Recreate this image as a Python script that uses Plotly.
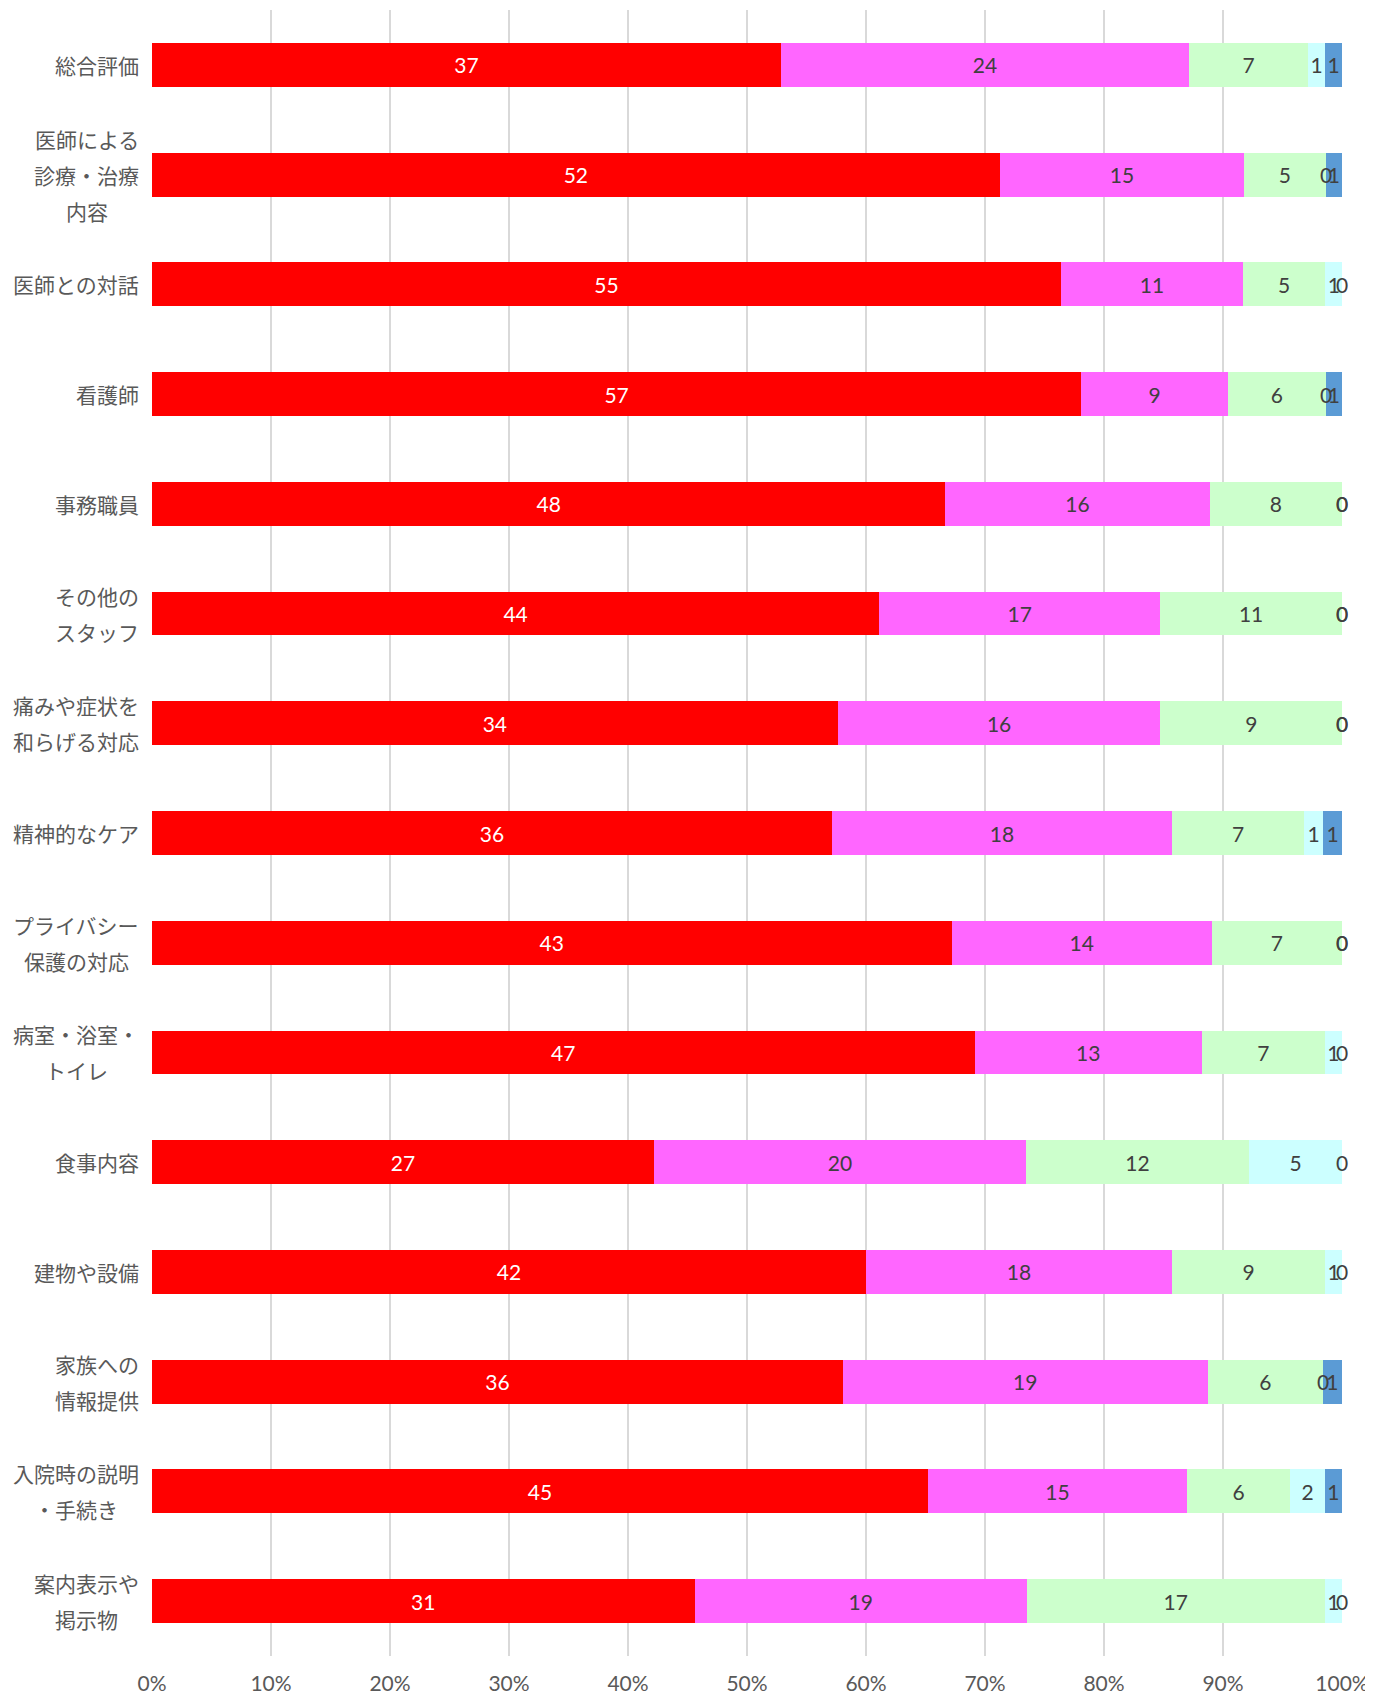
import plotly.graph_objects as go

categories = [
    "総合評価",
    "医師による\n診療・治療\n内容",
    "医師との対話",
    "看護師",
    "事務職員",
    "その他の\nスタッフ",
    "痛みや症状を\n和らげる対応",
    "精神的なケア",
    "プライバシー\n保護の対応",
    "病室・浴室・\nトイレ",
    "食事内容",
    "建物や設備",
    "家族への\n情報提供",
    "入院時の説明\n・手続き",
    "案内表示や\n掲示物",
]

series_names = ["s1", "s2", "s3", "s4", "s5"]
s1 = [37, 52, 55, 57, 48, 44, 34, 36, 43, 47, 27, 42, 36, 45, 31]
s2 = [24, 15, 11, 9, 16, 17, 16, 18, 14, 13, 20, 18, 19, 15, 19]
s3 = [7, 5, 5, 6, 8, 11, 9, 7, 7, 7, 12, 9, 6, 6, 17]
s4 = [1, 0, 1, 0, 0, 0, 0, 1, 0, 1, 5, 1, 0, 2, 1]
s5 = [1, 1, 0, 1, 0, 0, 0, 1, 0, 0, 0, 0, 1, 1, 0]

tick_vals = [0, 0.1, 0.2, 0.3, 0.4, 0.5, 0.6, 0.7, 0.8, 0.9, 1.0]
tick_text = ["0%", "10%", "20%", "30%", "40%", "50%", "60%", "70%", "80%", "90%", "100%"]

colors = ["#FF0000", "#FF66FF", "#CCFFCC", "#CCFFFF", "#5B9BD5"]
text_colors = ["#FFFFFF", "#404040", "#404040", "#404040", "#404040"]

all_series = [s1, s2, s3, s4, s5]
totals = [sum(v) for v in zip(*all_series)]
ykeys = [c.replace("\n", "") for c in categories]

NUM_FONT = "Lato"
CJK_FONT = "Noto Sans CJK JP"
NUM_FS = 21

fig = go.Figure()
for k, vals in enumerate(all_series):
    frac = [v / t for v, t in zip(vals, totals)]
    fig.add_trace(go.Bar(
        y=ykeys, x=frac, orientation="h", name=series_names[k],
        marker=dict(color=colors[k], line=dict(width=0)),
        text=[str(v) if v > 0 else "" for v in vals],
        textposition="inside", insidetextanchor="middle",
        constraintext="none",
        insidetextfont=dict(family=NUM_FONT, size=NUM_FS, color=text_colors[k]),
        hoverinfo="skip",
    ))

annotations = []

# labels for zero-valued segments, placed at segment boundary
for i in range(len(categories)):
    cum = 0
    for k, vals in enumerate(all_series):
        v = vals[i]
        if v == 0:
            annotations.append(dict(
                x=cum / totals[i], xref="x", y=ykeys[i], yref="y",
                text="0", showarrow=False, xanchor="center", yanchor="middle",
                font=dict(family=NUM_FONT, size=NUM_FS, color="#404040"),
            ))
        cum += v

FS = 21
LINE_H = 36
for i, cat in enumerate(categories):
    lines = cat.split("\n")
    n = len(lines)
    bw = max(len(l) for l in lines) * FS
    for j, line in enumerate(lines):
        annotations.append(dict(
            x=0, xref="paper", y=ykeys[i], yref="y",
            text=line, showarrow=False,
            xanchor="center", yanchor="middle",
            xshift=-(13 + bw / 2), yshift=-(j - (n - 1) / 2) * LINE_H,
            font=dict(family=CJK_FONT, size=FS, color="#595959"),
        ))

fig.update_layout(
    width=1365, height=1689,
    barmode="stack", bargap=0.6,
    showlegend=False,
    plot_bgcolor="white", paper_bgcolor="white",
    margin=dict(l=144, r=31, t=2, b=33),
    annotations=annotations,
    xaxis=dict(
        range=[0, 1], tickvals=tick_vals, ticktext=tick_text,
        showgrid=True, gridcolor="#D9D9D9", gridwidth=1.5,
        zeroline=False, showline=False,
        tickfont=dict(family=NUM_FONT, size=NUM_FS, color="#595959"),
        ticklabelstandoff=13,
    ),
    yaxis=dict(
        autorange="reversed", showticklabels=False, showgrid=False,
        zeroline=False, showline=False,
    ),
)

fig.write_html("out.html")
